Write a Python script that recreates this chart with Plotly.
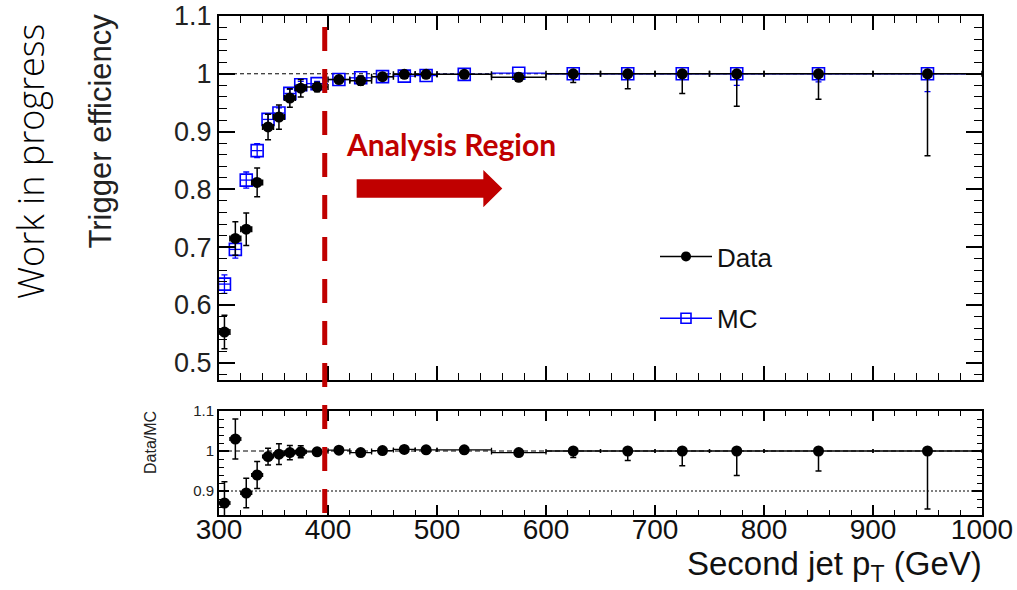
import plotly.graph_objects as go

# ---------------- data ----------------
bin_centers = [305, 315, 325, 335, 345, 355, 365, 375, 390, 410, 430, 450, 470, 490,
               525, 575, 625, 675, 725, 775, 850, 950]
bin_half_widths = [5, 5, 5, 5, 5, 5, 5, 5, 10, 10, 10, 10, 10, 10,
                   25, 25, 25, 25, 25, 25, 50, 50]

data_eff = [0.553, 0.715, 0.731, 0.812, 0.908, 0.925, 0.958, 0.975, 0.977, 0.990, 0.988,
            0.995, 0.999, 0.999, 0.999, 0.994, 1.000, 1.000, 1.000, 1.000, 1.000, 1.000]
data_err_up = [0.029, 0.029, 0.028, 0.025, 0.022, 0.021, 0.016, 0.015, 0.008, 0.006, 0.008,
               0.005, 0.001, 0.001, 0.001, 0.004, 0.0, 0.0, 0.0, 0.0, 0.0, 0.0]
data_err_dn = [0.029, 0.029, 0.028, 0.025, 0.022, 0.021, 0.016, 0.015, 0.008, 0.006, 0.008,
               0.005, 0.004, 0.005, 0.004, 0.006, 0.015, 0.026, 0.034, 0.056, 0.044, 0.142]

mc_eff = [0.636, 0.696, 0.816, 0.867, 0.921, 0.932, 0.966, 0.981, 0.983, 0.990, 0.993,
          0.995, 0.996, 0.997, 0.999, 1.001, 1.000, 1.000, 1.000, 1.000, 1.000, 1.000]
mc_err_up = [0.016, 0.015, 0.014, 0.012, 0.010, 0.009, 0.007, 0.006, 0.004, 0.003, 0.003,
             0.002, 0.002, 0.002, 0.001, 0.0, 0.0, 0.0, 0.0, 0.0, 0.0, 0.0]
mc_err_dn = [0.016, 0.015, 0.014, 0.012, 0.010, 0.009, 0.007, 0.006, 0.004, 0.003, 0.003,
             0.002, 0.002, 0.002, 0.001, 0.002, 0.002, 0.004, 0.006, 0.020, 0.014, 0.031]

ratio = [0.870, 1.030, 0.895, 0.940, 0.986, 0.992, 0.996, 0.998, 0.998, 1.002, 0.996,
         1.001, 1.004, 1.003, 1.003, 0.996, 1.000, 1.000, 1.000, 1.000, 1.000, 1.000]
ratio_err_up = [0.053, 0.050, 0.037, 0.034, 0.021, 0.026, 0.018, 0.015, 0.008, 0.006, 0.008,
                0.005, 0.005, 0.005, 0.004, 0.006, 0.0, 0.0, 0.0, 0.0, 0.0, 0.0]
ratio_err_dn = [0.053, 0.050, 0.037, 0.034, 0.021, 0.026, 0.018, 0.015, 0.008, 0.006, 0.008,
                0.005, 0.005, 0.005, 0.004, 0.006, 0.016, 0.024, 0.037, 0.061, 0.050, 0.145]

top_yticks = [0.5, 0.6, 0.7, 0.8, 0.9, 1.0, 1.1]
top_yticktext = ["0.5", "0.6", "0.7", "0.8", "0.9", "1", "1.1"]
bot_yticks = [0.9, 1.0, 1.1]
bot_yticktext = ["0.9", "1", "1.1"]
xticks = [300, 400, 500, 600, 700, 800, 900, 1000]

analysis_cut = 397

RED = "#C00000"
BLUE = "#0000FF"
FONT = "Liberation Sans"

fig = go.Figure()

# MC (drawn first so data sits on top)
fig.add_trace(go.Scatter(
    x=bin_centers, y=mc_eff, xaxis="x2", yaxis="y2", mode="markers", showlegend=False,
    marker=dict(symbol="square-open", size=12, color=BLUE, line=dict(width=1.6, color=BLUE)),
    error_x=dict(type="data", array=bin_half_widths, color=BLUE, thickness=1.3, width=0),
    error_y=dict(type="data", array=mc_err_up, arrayminus=mc_err_dn, color=BLUE, thickness=1.3, width=3),
))
# Data
fig.add_trace(go.Scatter(
    x=bin_centers, y=data_eff, xaxis="x2", yaxis="y2", mode="markers", showlegend=False,
    marker=dict(symbol="circle", size=11, color="black"),
    error_x=dict(type="data", array=bin_half_widths, color="black", thickness=1.5, width=3),
    error_y=dict(type="data", array=data_err_up, arrayminus=data_err_dn, color="black", thickness=1.5, width=3),
))
# Ratio
fig.add_trace(go.Scatter(
    x=bin_centers, y=ratio, xaxis="x", yaxis="y", mode="markers", showlegend=False,
    marker=dict(symbol="circle", size=11, color="black"),
    error_x=dict(type="data", array=bin_half_widths, color="black", thickness=1.3, width=2),
    error_y=dict(type="data", array=ratio_err_up, arrayminus=ratio_err_dn, color="black", thickness=1.5, width=3),
))

# legend entries
fig.add_trace(go.Scatter(x=[None], y=[None], xaxis="x2", yaxis="y2", mode="lines+markers", name="Data",
                         legendgroup="a", line=dict(color="black", width=1.5),
                         marker=dict(symbol="circle", size=10, color="black")))
fig.add_trace(go.Scatter(x=[None], y=[None], xaxis="x2", yaxis="y2", mode="lines+markers", name="MC",
                         legendgroup="b", line=dict(color=BLUE, width=1.5),
                         marker=dict(symbol="square-open", size=10, color=BLUE, line=dict(width=1.6, color=BLUE))))

axis_common = dict(showline=True, linecolor="black", linewidth=2, mirror="allticks", ticks="inside",
                   tickcolor="black", tickwidth=1.5, showgrid=False, zeroline=False, automargin=False,
                   tickfont=dict(family=FONT, color="black"))

ml, mr, mt, mb = 219, 35, 16, 75
W = 1017 - ml - mr
H = 590 - mt - mb
top_lo = (515 - 380) / H
bot_hi = (515 - 411) / H

fig.update_layout(
    width=1017, height=590,
    margin=dict(l=ml, r=mr, t=mt, b=mb, autoexpand=False),
    paper_bgcolor="white", plot_bgcolor="white",
    xaxis=dict(axis_common, domain=[0, 1], anchor="y", range=[300, 1000], tickvals=xticks,
               ticklen=10, tickfont=dict(family=FONT, size=28, color="#111"), ticklabelstandoff=-12,
               minor=dict(dtick=20, tick0=300, ticklen=5, ticks="inside", tickcolor="black", tickwidth=1.3)),
    yaxis=dict(axis_common, domain=[0, bot_hi], anchor="x", range=[0.84, 1.1], tickvals=bot_yticks,
               ticktext=bot_yticktext, ticklen=10, tickfont=dict(family=FONT, size=15, color="#222"),
               minor=dict(dtick=0.02, tick0=0.9, ticklen=5, ticks="inside", tickcolor="black", tickwidth=1.3)),
    xaxis2=dict(axis_common, domain=[0, 1], anchor="y2", range=[300, 1000], matches="x", tickvals=xticks,
                showticklabels=False, ticklen=14,
                minor=dict(dtick=20, tick0=300, ticklen=7, ticks="inside", tickcolor="black", tickwidth=1.3)),
    yaxis2=dict(axis_common, domain=[top_lo, 1], anchor="x2", range=[0.47, 1.1], tickvals=top_yticks,
                ticktext=top_yticktext, ticklen=16, tickfont=dict(family=FONT, size=27, color="#222"),
                minor=dict(dtick=0.02, tick0=0.5, ticklen=8, ticks="inside", tickcolor="black", tickwidth=1.3)),
    legend=dict(x=(655 - ml) / W, y=(515 - 233) / H, xanchor="left", yanchor="top",
                font=dict(family=FONT, size=26, color="#111"), tracegroupgap=25,
                bgcolor="rgba(0,0,0,0)", itemwidth=52),
)

shapes = [
    dict(type="line", xref="x2", yref="y2", x0=300, x1=1000, y0=1, y1=1,
         line=dict(color="black", width=1, dash="4px,3px"), layer="below"),
    dict(type="line", xref="x", yref="y", x0=300, x1=1000, y0=1, y1=1,
         line=dict(color="black", width=1, dash="5px,3px"), layer="below"),
    dict(type="line", xref="x", yref="y", x0=300, x1=1000, y0=0.9, y1=0.9,
         line=dict(color="black", width=1, dash="2px,2px"), layer="below"),
    # analysis-region cut line
    dict(type="line", xref="x", yref="paper", x0=analysis_cut, x1=analysis_cut,
         y0=(515 - 27) / H, y1=(515 - 513) / H,
         line=dict(color=RED, width=5, dash="24px,18px"), layer="above"),
    # arrow
    dict(type="path", xref="x2", yref="y2",
         path="M 426.3,0.8175 L 542.5,0.8175 L 542.5,0.8336 L 559.9,0.8016 L 542.5,0.7690 "
              "L 542.5,0.7856 L 426.3,0.7856 Z",
         fillcolor=RED, line=dict(width=0), layer="above"),
]
fig.update_layout(shapes=shapes)

annotations = [
    dict(text="Work in progress", xref="paper", yref="paper", x=(31 - ml) / W, y=(515 - 162) / H,
         textangle=-90, showarrow=False, xanchor="center", yanchor="middle",
         font=dict(family="Open Sans", size=36, color="black", weight=300)),
    dict(text="Trigger efficiency", xref="paper", yref="paper", x=(100 - ml) / W, y=(515 - 131.5) / H,
         textangle=-90, showarrow=False, xanchor="center", yanchor="middle",
         font=dict(family=FONT, size=31, color="#222", weight="normal")),
    dict(text="Data/MC", xref="paper", yref="paper", x=(150 - ml) / W, y=(515 - 443) / H,
         textangle=-90, showarrow=False, xanchor="center", yanchor="middle",
         font=dict(family=FONT, size=16, color="#222")),
    dict(text="Second jet p<sub>T</sub> (GeV)", xref="paper", yref="paper", x=(984 - ml) / W,
         y=(515 - 566) / H, showarrow=False, xanchor="right", yanchor="middle",
         font=dict(family=FONT, size=33, color="#111")),
    dict(text="<b>Analysis Region</b>", xref="x2", yref="y2", x=513, y=0.879, showarrow=False,
         xanchor="center", yanchor="middle", font=dict(family="Lato", size=30, color=RED)),
]
fig.update_layout(annotations=annotations)

fig.write_html("out.html")
